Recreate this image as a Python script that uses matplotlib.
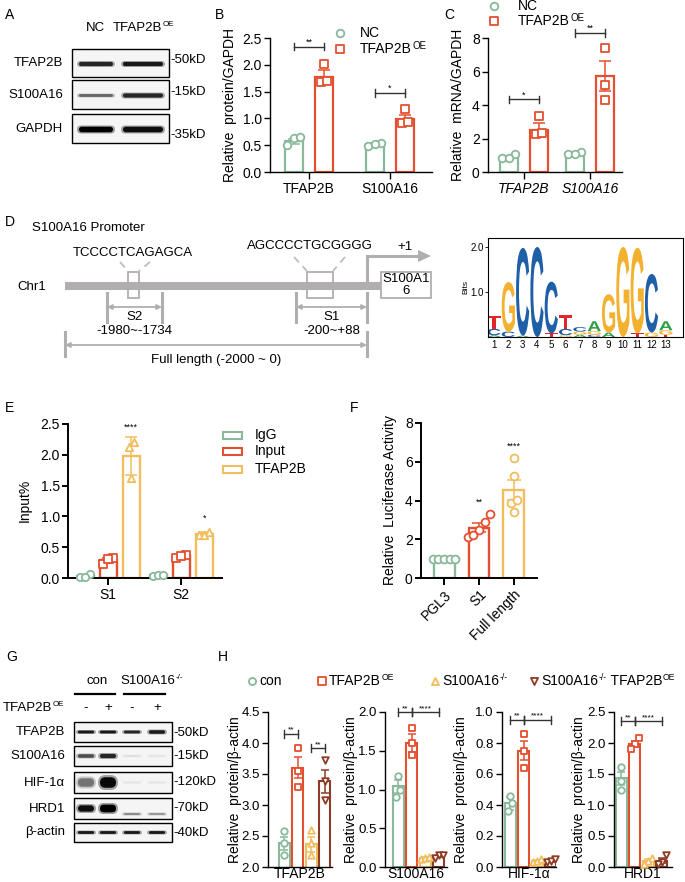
import matplotlib
matplotlib.use('Agg')
import matplotlib.pyplot as plt
import numpy as np
from matplotlib.patches import Rectangle, FancyBboxPatch, PathPatch, Polygon
from matplotlib.textpath import TextPath
from matplotlib.font_manager import FontProperties
from matplotlib.transforms import Affine2D

plt.rcParams['font.family'] = ['Liberation Sans', 'DejaVu Sans']

# ---------------- data ----------------
green, red, yellow, brown = '#89b99a', '#e4502f', '#f2bd5f', '#8d3b24'
grey = '#b0aeae'

# B: protein / GAPDH
b_genes = ['TFAP2B', 'S100A16']
b_nc_mean = [0.57, 0.52]
b_nc_err = [0.05, 0.02]
b_oe_mean = [1.78, 0.98]
b_oe_err = [0.13, 0.09]
b_nc_pts = [[0.63, 0.50, 0.65], [0.48, 0.55, 0.52]]
b_oe_pts = [[1.68, 2.02, 1.70], [0.92, 1.17, 0.93]]
b_sig = [('**', 2.34), ('*', 1.47)]

# C: mRNA / GAPDH
c_genes = ['TFAP2B', 'S100A16']
c_nc_mean = [0.9, 1.12]
c_nc_err = [0.08, 0.05]
c_oe_mean = [2.5, 5.75]
c_oe_err = [0.42, 0.9]
c_nc_pts = [[0.85, 1.1, 0.86], [1.05, 1.2, 1.1]]
c_oe_pts = [[2.27, 3.34, 2.3], [4.3, 7.4, 5.2]]
c_sig = [('*', 4.34), ('**', 8.3)]

# E: ChIP input%
e_sites = ['S1', 'S2']
e_series = ['IgG', 'Input', 'TFAP2B']
e_means = [[0.03, 0.05], [0.29, 0.35], [1.98, 0.72]]
e_errs = [[0.015, 0.005], [0.04, 0.015], [0.31, 0.02]]
e_pts = [[[0.01, 0.06, 0.02], [0.04, 0.05, 0.05]],
         [[0.22, 0.33, 0.31], [0.33, 0.37, 0.36]],
         [[2.13, 1.62, 2.21], [0.70, 0.74, 0.70]]]
e_sig = [('****', 2.38), ('*', 0.89)]

# F: luciferase
f_groups = ['PGL3', 'S1', 'Full length']
f_means = [1.0, 2.6, 4.55]
f_errs = [0.0, 0.22, 0.5]
f_pts = [[1.0, 1.0, 1.0, 1.0, 1.0],
         [2.1, 3.3, 2.9, 2.5, 2.2],
         [3.4, 6.2, 3.85, 5.25, 4.05]]
f_sig = [('', 0), ('**', 3.7), ('****', 6.55)]

# H: protein / beta-actin
h_genes = ['TFAP2B', 'S100A16', 'HIF-1α', 'HRD1']
h_means = [[2.38, 3.60, 2.37, 3.38], [1.04, 1.60, 0.12, 0.14],
           [0.41, 0.75, 0.04, 0.04], [1.43, 1.98, 0.10, 0.10]]
h_errs = [[0.11, 0.17, 0.12, 0.18], [0.08, 0.12, 0.01, 0.01],
          [0.04, 0.06, 0.005, 0.005], [0.11, 0.05, 0.03, 0.04]]
h_pts = [[[2.58, 2.38, 2.20], [3.92, 3.55, 3.29], [2.60, 2.38, 2.20], [3.73, 3.38, 3.08]],
         [[1.18, 1.00, 0.90], [1.80, 1.60, 1.45], [0.10, 0.12, 0.13], [0.12, 0.15, 0.16]],
         [[0.46, 0.41, 0.36], [0.86, 0.75, 0.64], [0.03, 0.04, 0.05], [0.03, 0.04, 0.05]],
         [[1.62, 1.38, 1.25], [2.08, 1.98, 1.90], [0.15, 0.10, 0.05], [0.20, 0.08, 0.05]]]
h_ylims = [(2.0, 4.5), (0, 2.0), (0, 1.0), (0, 2.5)]
h_yticks = [np.arange(2.0, 4.51, 0.5), np.arange(0, 2.01, 0.5),
            np.arange(0, 1.01, 0.2), np.arange(0, 2.51, 0.5)]
h_sig = [[('**', 0, 1, 4.15), ('**', 2, 3, 3.92)],
         [('**', 0, 1, 2.0), ('****', 1, 3, 2.0)],
         [('**', 0, 1, 0.95), ('****', 1, 3, 0.95)],
         [('**', 0, 1, 2.35), ('****', 1, 3, 2.35)]]

# D: motif (bottom -> top, bits)
motif = [[('A', 0.04), ('C', 0.14), ('T', 0.28)],
         [('C', 0.12), ('G', 1.10)],
         [('A', 0.03), ('C', 1.95)],
         [('C', 2.0)],
         [('T', 0.08), ('C', 1.15)],
         [('G', 0.04), ('C', 0.14), ('T', 0.30)],
         [('A', 0.05), ('G', 0.07), ('C', 0.10)],
         [('C', 0.05), ('G', 0.08), ('A', 0.22)],
         [('A', 0.10), ('G', 0.85)],
         [('G', 2.0)],
         [('T', 0.08), ('G', 1.9)],
         [('G', 0.10), ('C', 1.30)],
         [('T', 0.05), ('G', 0.10), ('A', 0.20)]]
letter_colors = {'A': '#2e9e48', 'C': '#1f5fa8', 'G': '#f4b12f', 'T': '#e0262b'}

# blots: band darkness per lane
a_rows = ['TFAP2B', 'S100A16', 'GAPDH']
a_kd = ['-50kD', '-15kD', '-35kD']
a_bands = [[0.85, 0.9], [0.6, 0.85], [1.0, 0.95]]
g_rows = ['TFAP2B', 'S100A16', 'HIF-1α', 'HRD1', 'β-actin']
g_kd = ['-50kD', '-15kD', '-120kD', '-70kD', '-40kD']
g_bands = [[0.9, 0.9, 0.85, 0.9], [0.7, 0.85, 0.12, 0.1],
           [0.55, 0.97, 0.1, 0.1], [0.95, 1.0, 0.45, 0.4], [0.9, 0.9, 0.9, 0.9]]

# ---------------- figure ----------------
W, H = 685, 882
fig = plt.figure(figsize=(6.85, 8.82), dpi=100)


def px_axes(x0, y0, x1, y1):
    a = fig.add_axes([x0 / W, 1 - y1 / H, (x1 - x0) / W, (y1 - y0) / H])
    a.patch.set_alpha(0)
    return a


def style(ax, lw=1.0, fs=10):
    for s in ['top', 'right']:
        ax.spines[s].set_visible(False)
    for s in ['left', 'bottom']:
        ax.spines[s].set_linewidth(lw)
    ax.tick_params(width=lw, length=4, labelsize=fs, pad=2)


def swarm(vals, thr, step):
    vals = np.asarray(vals, float)
    order = np.argsort(vals, kind='stable')
    offs = np.zeros(len(vals))
    clusters = [[order[0]]]
    for i in order[1:]:
        if vals[i] - vals[clusters[-1][-1]] < thr:
            clusters[-1].append(i)
        else:
            clusters.append([i])
    for cl in clusters:
        n = len(cl)
        for k, i in enumerate(cl):
            offs[i] = (k - (n - 1) / 2) * step
    return offs


def draw_bar(ax, x, mean, err, pts, color, marker, width, ms, thr, step, lw=1.6, cap=4):
    ax.bar(x, mean, width, color='white', edgecolor=color, linewidth=lw, zorder=2)
    ax.errorbar(x, mean, yerr=err, color=color, capsize=cap, elinewidth=1.1,
                capthick=1.1, zorder=3)
    offs = swarm(pts, thr, step)
    ax.scatter(x + offs, pts, s=ms, marker=marker, facecolors='white', edgecolors=color,
               linewidths=1.3, zorder=4, clip_on=False)


def bracket(ax, x0, x1, y, txt, cap, fs=6.5):
    kw = dict(color='#333333', lw=1.0, clip_on=False)
    ax.plot([x0, x1], [y, y], **kw)
    ax.plot([x0, x0], [y - cap, y + cap], **kw)
    ax.plot([x1, x1], [y - cap, y + cap], **kw)
    ax.text((x0 + x1) / 2, y, txt, ha='center', va='bottom', fontsize=fs, clip_on=False)


# ---------- B ----------
axB = px_axes(270, 38, 432, 172)
style(axB)
bx = np.arange(len(b_genes))
for i in range(len(b_genes)):
    draw_bar(axB, bx[i] - 0.185, b_nc_mean[i], b_nc_err[i], b_nc_pts[i], green, 'o', 0.22, 30, 0.15, 0.08)
    draw_bar(axB, bx[i] + 0.185, b_oe_mean[i], b_oe_err[i], b_oe_pts[i], red, 's', 0.22, 30, 0.15, 0.08)
    bracket(axB, bx[i] - 0.185, bx[i] + 0.185, b_sig[i][1], b_sig[i][0], 0.07)
axB.set_xlim(-0.48, 1.52)
axB.set_ylim(0, 2.5)
axB.set_yticks(np.arange(0, 2.51, 0.5))
axB.set_yticklabels(['%.1f' % v for v in np.arange(0, 2.51, 0.5)])
axB.set_xticks(bx)
axB.set_xticklabels(b_genes)
axB.tick_params(axis='x', length=5)

# ---------- C ----------
axC = px_axes(488, 38, 622, 172)
style(axC)
cx = np.arange(len(c_genes))
for i in range(len(c_genes)):
    draw_bar(axC, cx[i] - 0.23, c_nc_mean[i], c_nc_err[i], c_nc_pts[i], green, 'o', 0.28, 30, 0.5, 0.1)
    draw_bar(axC, cx[i] + 0.23, c_oe_mean[i], c_oe_err[i], c_oe_pts[i], red, 's', 0.28, 30, 0.5, 0.1)
    bracket(axC, cx[i] - 0.23, cx[i] + 0.23, c_sig[i][1], c_sig[i][0], 0.22)
axC.set_xlim(-0.545, 1.485)
axC.set_ylim(0, 8)
axC.set_yticks([0, 2, 4, 6, 8])
axC.set_xticks(cx)
axC.set_xticklabels(c_genes, style='italic')
axC.tick_params(axis='x', length=5)

# ---------- motif logo ----------
axM = px_axes(488, 238, 683, 337)
axM.patch.set_alpha(1)
fpL = FontProperties(family='Liberation Sans', weight='bold')
for p, stack in enumerate(motif):
    y0 = 0
    for ch, h in stack:
        tp = TextPath((0, 0), ch, size=1, prop=fpL)
        bb = tp.get_extents()
        w = 0.92
        t = Affine2D().translate(-bb.x0, -bb.y0).scale(w / bb.width, h / bb.height).translate(p + 1 - w / 2, y0)
        axM.add_patch(PathPatch(t.transform_path(tp), fc=letter_colors[ch], ec='none'))
        y0 += h
axM.set_xlim(0.58, 14.2)
axM.set_ylim(0, 2.2)
axM.set_yticks([1.0, 2.0])
axM.set_yticklabels(['1.0', '2.0'])
axM.set_xticks(np.arange(1, len(motif) + 1))
axM.tick_params(axis='y', labelsize=7, length=2, width=0.6, pad=1)
axM.tick_params(axis='x', labelsize=7, length=0, pad=2)
for s in axM.spines.values():
    s.set_linewidth(0.8)

# ---------- E ----------
axE = px_axes(68, 424, 222, 578)
style(axE, lw=1.4, fs=10)
ex = np.arange(len(e_sites))
e_cols = [green, red, yellow]
e_marks = ['o', 's', '^']
for j in range(len(e_series)):
    for i in range(len(e_sites)):
        draw_bar(axE, ex[i] + (j - 1) * 0.315, e_means[j][i], e_errs[j][i], e_pts[j][i],
                 e_cols[j], e_marks[j], 0.23, 28, 0.1, 0.07, lw=1.7)
for i in range(len(e_sites)):
    axE.text(ex[i] + 0.315, e_sig[i][1], e_sig[i][0], ha='center', va='bottom', fontsize=6.5)
axE.set_xlim(-0.55, 1.56)
axE.set_ylim(0, 2.5)
axE.set_yticks(np.arange(0, 2.51, 0.5))
axE.set_yticklabels(['%.1f' % v for v in np.arange(0, 2.51, 0.5)])
axE.set_xticks(ex)
axE.set_xticklabels(e_sites)
axE.tick_params(axis='x', length=5)

# ---------- F ----------
axF = px_axes(421, 423, 537, 578)
style(axF, lw=1.4, fs=10)
fx = np.arange(len(f_groups))
f_cols = [green, red, yellow]
for i in range(len(f_groups)):
    draw_bar(axF, fx[i], f_means[i], f_errs[i], f_pts[i], f_cols[i], 'o', 0.6, 32, 0.4, 0.16, lw=1.7, cap=5)
    if f_sig[i][0]:
        axF.text(fx[i], f_sig[i][1], f_sig[i][0], ha='center', va='bottom', fontsize=6.5)
axF.set_xlim(-0.66, 2.66)
axF.set_ylim(0, 8)
axF.set_yticks([0, 2, 4, 6, 8])
axF.set_xticks(fx)
axF.set_xticklabels(f_groups, rotation=45, ha='right', rotation_mode='anchor')
axF.tick_params(axis='x', length=5)

# ---------- H ----------
h_boxes = [(268, 332), (385, 447), (502, 556), (614, 672)]
h_xlims = [(-1.19, 3.55), (-1.0, 3.6), (-0.6, 3.4), (-0.55, 3.75)]
h_cols = [green, red, yellow, brown]
h_marks = ['o', 's', '^', 'v']
for k in range(len(h_genes)):
    ax = px_axes(h_boxes[k][0], 712, h_boxes[k][1], 867)
    style(ax, lw=1.0, fs=9.5)
    lo, hi = h_ylims[k]
    rng = hi - lo
    for g in range(4):
        draw_bar(ax, g, h_means[k][g], h_errs[k][g], h_pts[k][g], h_cols[g], h_marks[g],
                 0.82, 22, rng * 0.05, 0.3, lw=1.5, cap=3)
    for txt, a0, a1, y in h_sig[k]:
        bracket(ax, a0, a1, y, txt, rng * 0.025, fs=6)
    ax.set_xlim(*h_xlims[k])
    ax.set_ylim(lo, hi)
    ax.set_yticks(h_yticks[k])
    ax.set_yticklabels(['%.1f' % v for v in h_yticks[k]])
    ax.set_xticks([])
    ax.set_xlabel(h_genes[k], fontsize=10, labelpad=0)

# ---------- overlay: labels, diagram, blots ----------
ov = fig.add_axes([0, 0, 1, 1], zorder=10)
ov.set_xlim(0, W)
ov.set_ylim(H, 0)
ov.axis('off')


def rich(x, y, parts, fs, sup_scale=0.62, ha='left'):
    # parts: list of (text, is_superscript); drawn left to right
    base = ov.text(x, y, parts[0][0], fontsize=fs, ha='left', va='center')
    prev = base
    for txt, is_sup in parts[1:]:
        if is_sup:
            prev = ov.annotate(txt, xy=(1, 1.0), xycoords=(prev, base), xytext=(0.3, 0.5),
                               textcoords='offset points', fontsize=fs * sup_scale,
                               ha='left', va='top')
        else:
            prev = ov.annotate(txt, xy=(1, 0.5), xycoords=(prev, base), fontsize=fs,
                               ha='left', va='center')
    return base


for lab, x, y in [('A', 5, 15), ('B', 215, 15), ('C', 444, 15), ('D', 5, 222),
                  ('E', 5, 408), ('F', 350, 408), ('G', 6, 657), ('H', 218, 657)]:
    ov.text(x, y, lab, fontsize=10, ha='left', va='center')

# y labels
ov.text(230, 105, 'Relative  protein/GAPDH', rotation=90, ha='center', va='center', fontsize=10)
ov.text(458, 105, 'Relative  mRNA/GAPDH', rotation=90, ha='center', va='center', fontsize=10)
ov.text(25, 500, 'Input%', rotation=90, ha='center', va='center', fontsize=10)
ov.text(390, 500, 'Relative  Luciferase Activity', rotation=90, ha='center', va='center', fontsize=10)
for xl in [235, 351, 461, 579]:
    ov.text(xl, 790, 'Relative  protein/β-actin', rotation=90, ha='center', va='center', fontsize=10)


# legends
def mark(x, y, m, c, s=30):
    ov.scatter([x], [y], s=s, marker=m, facecolors='white', edgecolors=c, linewidths=1.3)


mark(340, 33, 'o', green); ov.text(360, 33, 'NC', fontsize=10, va='center')
mark(340, 49, 's', red); rich(360, 49, [('TFAP2B', False), ('OE', True)], 10, 0.7)
mark(494, 6, 'o', green); ov.text(518, 6, 'NC', fontsize=10, va='center')
mark(494, 21, 's', red); rich(518, 21, [('TFAP2B', False), ('OE', True)], 10, 0.7)
for lab, c, y in zip(e_series, e_cols, [435, 451, 469]):
    ov.add_patch(Rectangle((223, y - 3.5), 19, 7, fc='white', ec=c, lw=1.5))
    ov.text(255, y, lab, fontsize=10, va='center')
h_leg = [([('con', False)], 252),
         ([('TFAP2B', False), ('OE', True)], 322),
         ([('S100A16', False), ('-/-', True)], 435),
         ([('S100A16', False), ('-/-', True), (' TFAP2B', False), ('OE', True)], 534)]
for (parts, x), c, m in zip(h_leg, h_cols, h_marks):
    mark(x, 681, m, c, s=26)
    rich(x + 7, 681, parts, 10)

# D diagram
ov.text(32, 228, 'S100A16 Promoter', fontsize=9.5, va='center')
ov.text(17, 287, 'Chr1', fontsize=9.5, va='center')
ov.plot([65, 381], [286, 286], color=grey, lw=5.8, solid_capstyle='butt')
ov.add_patch(Rectangle((128, 272), 11, 26, fc='white', ec=grey, lw=1.3))
ov.add_patch(Rectangle((307, 272), 26, 26, fc='white', ec=grey, lw=1.3))
ov.add_patch(Rectangle((381, 272), 50, 26, fc='white', ec=grey, lw=1.3))
ov.text(406, 285, 'S100A1\n6', fontsize=9.5, ha='center', va='center', linespacing=1.1)
ov.plot([367, 367, 420], [286, 256, 256], color=grey, lw=2.2, solid_joinstyle='miter')
ov.add_patch(Polygon([(418, 250), (418, 262), (431, 256)], fc=grey, ec='none'))
ov.text(405, 247, '+1', fontsize=9.5, ha='center', va='center')
ov.text(133, 253, 'TCCCCTCAGAGCA', fontsize=9.5, ha='center', va='center')
ov.text(310, 246, 'AGCCCCTGCGGGG', fontsize=9.5, ha='center', va='center')
dash = dict(color='#bdbdbd', lw=1.3, dashes=(4, 3))
ov.plot([120, 128], [262, 271], **dash); ov.plot([150, 139], [262, 271], **dash)
ov.plot([294, 307], [257, 271], **dash); ov.plot([345, 333], [257, 271], **dash)
for xa, xb, lab, rng_txt in [(107, 162, 'S2', '-1980~-1734'), (296, 367, 'S1', '-200~+88')]:
    ov.plot([xa, xa], [293, 322], color=grey, lw=2.2)
    ov.plot([xb, xb], [293, 322], color=grey, lw=2.2)
    ov.annotate('', xy=(xa, 307), xytext=(xb, 307),
                arrowprops=dict(arrowstyle='<|-|>', color=grey, lw=1.3, mutation_scale=7,
                                shrinkA=0, shrinkB=0))
    ov.text((xa + xb) / 2, 317, lab, fontsize=9.5, ha='center', va='center')
    ov.text((xa + xb) / 2, 331, rng_txt, fontsize=9.5, ha='center', va='center')
ov.plot([65, 65], [332, 356], color=grey, lw=2.2)
ov.plot([367, 367], [332, 356], color=grey, lw=2.2)
ov.annotate('', xy=(65, 345), xytext=(367, 345),
            arrowprops=dict(arrowstyle='<|-|>', color=grey, lw=1.3, mutation_scale=7,
                            shrinkA=0, shrinkB=0))
ov.text(216, 360, 'Full length (-2000 ~ 0)', fontsize=9.5, ha='center', va='center')
ov.text(466, 287, 'Bits', rotation=90, fontsize=6, ha='center', va='center')


def band(x0, x1, yc, h, dark):
    g = 1 - dark
    ov.add_patch(FancyBboxPatch((x0, yc - h / 2), x1 - x0, h,
                                boxstyle='round,pad=0,rounding_size=%f' % (h / 2),
                                fc=(g, g, g), ec='none', alpha=0.35))
    ov.add_patch(FancyBboxPatch((x0 + 2, yc - h * 0.35), x1 - x0 - 4, h * 0.7,
                                boxstyle='round,pad=0,rounding_size=%f' % (h * 0.35),
                                fc=(g, g, g), ec='none'))


# A blot
ov.text(95, 28, 'NC', fontsize=9.5, ha='center', va='center')
rich(113, 28, [('TFAP2B', False), ('OE', True)], 9.5, 0.6)
a_box = [(49, 77), (80, 109), (114, 143)]
a_kdy = [60, 92, 135]
a_lanes = [(77, 115), (121, 165)]
for r in range(len(a_rows)):
    y0, y1 = a_box[r]
    ov.add_patch(Rectangle((72, y0), 97, y1 - y0, fc='#f5f5f5', ec='black', lw=1.0))
    ov.text(63, (y0 + y1) / 2, a_rows[r], fontsize=9.5, ha='right', va='center')
    ov.text(170, a_kdy[r], a_kd[r], fontsize=9.5, ha='left', va='center')
    for l in range(2):
        hh = [6, 4 + 2 * l, 8][r]
        band(a_lanes[l][0], a_lanes[l][1], (y0 + y1) / 2 + 1, hh, a_bands[r][l])

# G blot
ov.text(97, 681, 'con', fontsize=9.5, ha='center', va='center')
rich(120, 681, [('S100A16', False), ('-/-', True)], 9.5, 0.6)
ov.plot([75, 115], [694, 694], color='black', lw=1.6)
ov.plot([124, 165], [694, 694], color='black', lw=1.6)
rich(3, 708, [('TFAP2B', False), ('OE', True)], 9.5, 0.6)
g_centers = [86, 108, 132, 157]
for xc, sgn in zip(g_centers, ['-', '+', '-', '+']):
    ov.text(xc, 708, sgn, fontsize=9.5, ha='center', va='center')
g_box = [(722, 742), (746, 766), (772, 793), (798, 819), (823, 842)]
g_kdy = [733, 756, 782, 808, 833]
g_h = [[4, 4, 4, 5], [5, 6, 3, 3], [12, 15, 3, 3], [9, 11, 3, 3], [4, 4, 4, 4]]
for r in range(len(g_rows)):
    y0, y1 = g_box[r]
    ov.add_patch(Rectangle((74, y0), 98, y1 - y0, fc='#f5f5f5', ec='black', lw=1.0))
    ov.text(65, (y0 + y1) / 2, g_rows[r], fontsize=9.5, ha='right', va='center')
    ov.text(173, g_kdy[r], g_kd[r], fontsize=9.5, ha='left', va='center')
    for l in range(4):
        yc = (y0 + y1) / 2
        if r == 3 and l >= 2:
            yc = y1 - 5
        band(g_centers[l] - 10, g_centers[l] + 10, yc, g_h[r][l], g_bands[r][l])

fig.savefig('out.png', dpi=100)
